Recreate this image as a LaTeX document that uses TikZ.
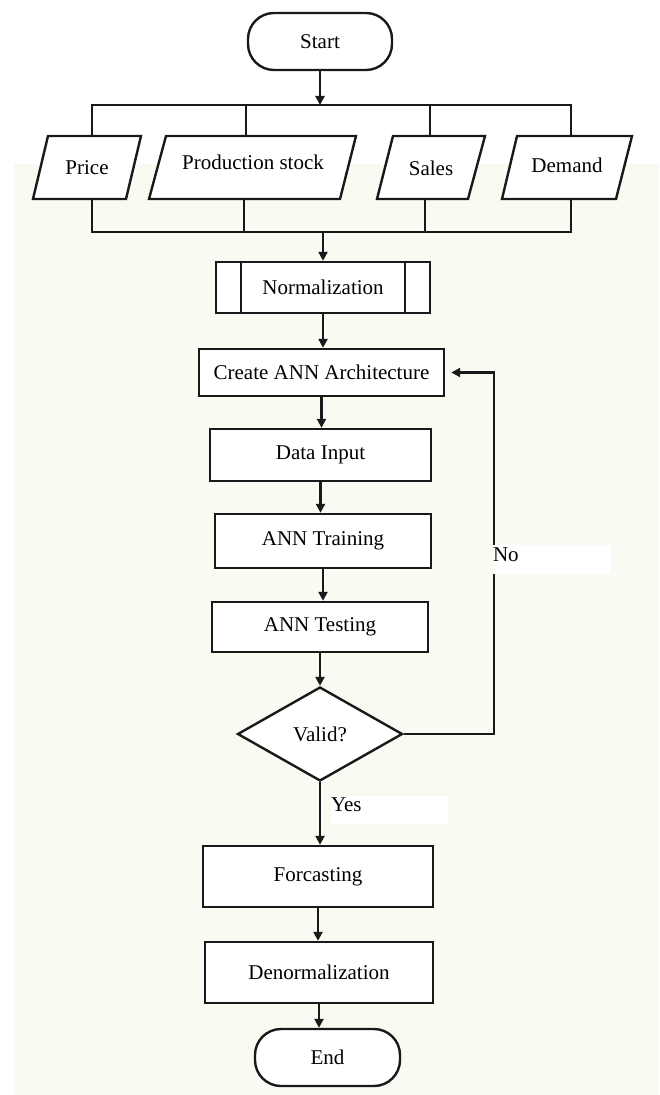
\documentclass[tikz,border=0pt]{standalone}
\usepackage{fontspec}
\setmainfont{Liberation Serif}
\usetikzlibrary{shapes.geometric,arrows.meta}
\definecolor{bgbeige}{RGB}{250,250,243}
\definecolor{ink}{RGB}{25,25,25}
\begin{document}
\begin{tikzpicture}[x=0.5pt,y=-0.5pt,
  font=\fontsize{10.5}{12}\selectfont,
  box/.style={draw=ink, line width=1.2pt, fill=white, inner sep=1pt},
  term/.style={box, rounded corners=13pt, minimum height=28.5pt},
  conn/.style={draw=ink, line width=1.2pt},
  arr/.style={conn, -{Triangle[length=4.5pt,width=4.5pt]}},
  lab/.style={fill=white, inner sep=0pt, align=left}
]
\useasboundingbox (0,0) rectangle (659,1095);
\fill[bgbeige] (14,164) rectangle (659,1095);

% start
\node[term, minimum width=72pt] (start) at (320,41.5) {Start};

% input parallelograms
\draw[box] (33,199) -- (126,199) -- (141,136) -- (48,136) -- cycle;
\node[inner sep=0pt] (price) at (87,168) {Price};
\draw[box] (149,199) -- (340,199) -- (356,136) -- (166,136) -- cycle;
\node[inner sep=0pt] (prod) at (253,162) {Production stock};
\draw[box] (377,199) -- (468,199) -- (485,136) -- (393,136) -- cycle;
\node[inner sep=0pt] (sales) at (431,168) {Sales};
\draw[box] (502,199) -- (616,199) -- (632,136) -- (517,136) -- cycle;
\node[inner sep=0pt] (demand) at (567,165) {Demand};

\coordinate (pricet) at (92,136);
\coordinate (prodt) at (246,136);
\coordinate (salest) at (430,136);
\coordinate (demt) at (571,136);
\coordinate (priceb) at (92,199);
\coordinate (prodb) at (244,199);
\coordinate (salesb) at (425,199);
\coordinate (demb) at (571,199);
\coordinate (bt) at (320,105);
\coordinate (bb) at (323,232);

% process boxes
\node[box, minimum width=107pt, minimum height=25.5pt] (norm) at (323,287.5) {Normalization};
\draw[conn] ([xshift=13pt]norm.north west) -- ([xshift=13pt]norm.south west);
\draw[conn] ([xshift=-13pt]norm.north east) -- ([xshift=-13pt]norm.south east);
\node[box, minimum width=122.5pt, minimum height=23.5pt] (ann) at (321.5,372.5) {Create ANN Architecture};
\node[box, minimum width=110.5pt, minimum height=26pt] (data) at (320.5,455) {Data Input};
\node[box, minimum width=108pt, minimum height=27pt] (train) at (323,541) {ANN Training};
\node[box, minimum width=108pt, minimum height=25pt] (test) at (320,627) {ANN Testing};
\node[box, diamond, inner sep=0pt, minimum width=82.5pt, minimum height=47pt] (valid) at (320,734) {Valid?};
\node[box, minimum width=115pt, minimum height=30.5pt] (fore) at (318,876.5) {Forcasting};
\node[box, minimum width=114pt, minimum height=30.5pt] (denorm) at (319,972.5) {Denormalization};
\node[term, minimum width=72.5pt] (end) at (327.5,1057.5) {End};

% connectors top
\draw[arr] (start.south) -- (bt);
\draw[conn] (pricet) -- (pricet |- bt) -- (demt |- bt) -- (demt);
\draw[conn] (prodt) -- (prodt |- bt);
\draw[conn] (salest) -- (salest |- bt);
\draw[conn] (priceb) -- (priceb |- bb) -- (demb |- bb) -- (demb);
\draw[conn] (prodb) -- (prodb |- bb);
\draw[conn] (salesb) -- (salesb |- bb);
\draw[arr] (bb) -- (norm.north);

% main chain
\draw[arr] (norm.south) -- (norm.south |- ann.north);
\draw[arr] (ann.south) -- (ann.south |- data.north);
\draw[arr] (data.south) -- (data.south |- train.north);
\draw[arr] (train.south) -- (train.south |- test.north);
\draw[arr] (test.south) -- (test.south |- valid.north);
\draw[arr] (valid.south) -- (valid.south |- fore.north);
\draw[arr] (fore.south) -- (fore.south |- denorm.north);
\draw[arr] (denorm.south) -- (denorm.south |- end.north);

% feedback
\draw[arr, shorten >=3pt] (valid.east) -- ++(90,0) |- (ann.east);

% labels
\node[lab, text width=59pt, text height=8pt, text depth=6.5pt] (nolab) at (552,559.5) {No};
\node[lab, text width=58.5pt, text height=7.5pt, text depth=6.5pt] (yeslab) at (389.5,810) {Yes};
\end{tikzpicture}
\end{document}
